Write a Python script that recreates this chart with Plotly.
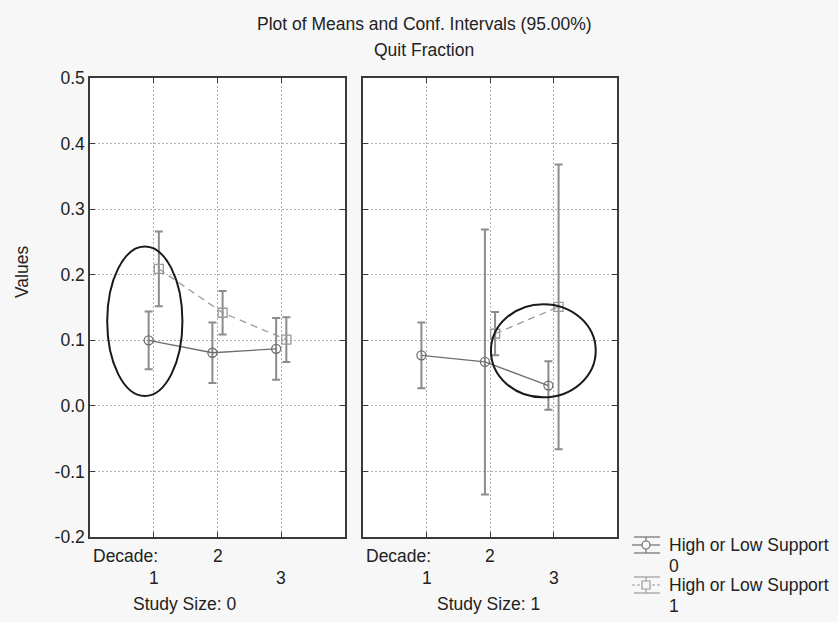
import plotly.graph_objects as go

# ---------------- data ----------------
decades = [1, 2, 3]
decade_tick_labels = ["1", "2", "3"]
y_tick_values = [-0.2, -0.1, 0.0, 0.1, 0.2, 0.3, 0.4, 0.5]
y_tick_labels = ["-0.2", "-0.1", "0.0", "0.1", "0.2", "0.3", "0.4", "0.5"]
study_sizes = ["Study Size: 0", "Study Size: 1"]
series_names = ["High or Low Support<br>0", "High or Low Support<br>1"]

# Study size 0
s0_support0_mean = [0.100, 0.081, 0.087]
s0_support0_ci = [0.044, 0.046, 0.047]
s0_support1_mean = [0.209, 0.142, 0.101]
s0_support1_ci = [0.057, 0.033, 0.034]
# Study size 1
s1_support0_mean = [0.077, 0.067, 0.031]
s1_support0_ci = [0.050, 0.202, 0.037]
s1_support1_mean = [None, 0.110, 0.151]
s1_support1_ci = [None, 0.033, 0.217]

# highlight ellipses (panel, x-center, y-center, x-radius, y-radius) in data units
ellipse_panel = [1, 2]
ellipse_cx = [0.86, 2.84]
ellipse_cy = [0.129, 0.084]
ellipse_rx = [0.59, 0.825]
ellipse_ry = [0.114, 0.071]

# ---------------- style ----------------
W, H = 838, 622
ML, MR, MT, MB = 90, 221, 78, 85
PW = W - ML - MR
PH = H - MT - MB
FONT = "Liberation Sans, Arial, sans-serif"
TXT = "#222222"
BG = "#f7f7f7"
FRAME = "#3a3a3a"
GRID = "#b0b0b0"
GRAY0 = "#6e6e6e"
GRAY1 = "#9a9a9a"
ERR = "#8c8c8c"
OFFSET = 0.08
FS = 17.5


def px_x(px):
    return (px - ML) / PW


def px_y(py):
    return (H - MB - py) / PH


fig = go.Figure()

panels = [
    (s0_support0_mean, s0_support0_ci, s0_support1_mean, s0_support1_ci),
    (s1_support0_mean, s1_support0_ci, s1_support1_mean, s1_support1_ci),
]

for i, (m0, c0, m1, c1) in enumerate(panels):
    xa = "x" if i == 0 else "x2"
    ya = "y" if i == 0 else "y2"
    fig.add_trace(go.Scatter(
        x=[d - OFFSET for d in decades], y=m0, xaxis=xa, yaxis=ya,
        mode="lines+markers", showlegend=False,
        line=dict(color=GRAY0, width=1.3),
        marker=dict(symbol="circle-open", size=9, color=GRAY0, line=dict(width=1.3)),
        error_y=dict(type="data", array=c0, color=ERR, thickness=2, width=4),
    ))
    fig.add_trace(go.Scatter(
        x=[d + OFFSET for d in decades], y=m1, xaxis=xa, yaxis=ya,
        mode="lines+markers", showlegend=False, connectgaps=False,
        line=dict(color=GRAY1, width=1.3, dash="7px,5px"),
        marker=dict(symbol="square-open", size=9, color=GRAY1, line=dict(width=1.3)),
        error_y=dict(type="data", array=[v if v is not None else 0 for v in c1],
                     color=ERR, thickness=2, width=4),
    ))

axis_common = dict(
    range=[0, 4], tickvals=decades, showticklabels=False,
    showgrid=True, gridcolor=GRID, griddash="2px,2px", gridwidth=1,
    showline=True, mirror="ticks", linecolor=FRAME, linewidth=1.5,
    ticks="inside", ticklen=5, tickcolor=FRAME, zeroline=False,
)
yaxis_common = dict(
    range=[-0.2, 0.5], tickvals=y_tick_values, ticktext=y_tick_labels,
    showgrid=True, gridcolor=GRID, griddash="2px,2px", gridwidth=1,
    showline=True, mirror="ticks", linecolor=FRAME, linewidth=1.5,
    ticks="inside", ticklen=5, tickcolor=FRAME, zeroline=False,
)

fig.update_layout(
    width=W, height=H,
    margin=dict(l=ML, r=MR, t=MT, b=MB),
    paper_bgcolor=BG, plot_bgcolor="white",
    font=dict(family=FONT, size=FS, color=TXT),
    xaxis=dict(domain=[0, 255 / PW], **axis_common),
    xaxis2=dict(domain=[273 / PW, 1.0], **axis_common),
    yaxis=dict(anchor="x", tickfont=dict(family=FONT, size=FS, color=TXT), **yaxis_common),
    yaxis2=dict(anchor="x2", showticklabels=False, **yaxis_common),
    showlegend=False,
)

shapes = []
for p, cx, cy, rx, ry in zip(ellipse_panel, ellipse_cx, ellipse_cy, ellipse_rx, ellipse_ry):
    xr = "x" if p == 1 else "x2"
    yr = "y" if p == 1 else "y2"
    shapes.append(dict(type="circle", xref=xr, yref=yr,
                       x0=cx - rx, x1=cx + rx, y0=cy - ry, y1=cy + ry,
                       line=dict(color="#1a1a1a", width=2)))

ann = []
# titles
ann.append(dict(text="Plot of Means and Conf. Intervals (95.00%)", xref="paper", yref="paper",
                x=px_x(424), y=px_y(24), showarrow=False, xanchor="center", yanchor="middle"))
ann.append(dict(text="Quit Fraction", xref="paper", yref="paper",
                x=px_x(424), y=px_y(50), showarrow=False, xanchor="center", yanchor="middle"))
# y title
ann.append(dict(text="Values", xref="paper", yref="paper", x=px_x(22), y=px_y(272),
                textangle=-90, showarrow=False, xanchor="center", yanchor="middle"))

study_centers = [184, 488]
decade_left = [91, 364]
for i in range(2):
    xr = "x" if i == 0 else "x2"
    ann.append(dict(text="Decade:", xref="paper", yref="paper", x=px_x(decade_left[i]), y=px_y(556),
                    showarrow=False, xanchor="left", yanchor="middle"))
    for d, lab in zip(decades, decade_tick_labels):
        yy = 556 if d % 2 == 0 else 578
        ann.append(dict(text=lab, xref=xr, yref="paper", x=d, y=px_y(yy),
                        showarrow=False, xanchor="center", yanchor="middle"))
    ann.append(dict(text=study_sizes[i], xref="paper", yref="paper", x=px_x(study_centers[i]),
                    y=px_y(604), showarrow=False, xanchor="center", yanchor="middle"))

# custom legend
leg_y = [545, 585]
leg_dash = ["solid", "3px,2px"]
leg_col = [GRAY0, GRAY1]
leg_sym = ["circle", "square"]
for k in range(2):
    cy = leg_y[k]
    x0, x1, xc = 632, 660, 646
    for dy, dash in [(-8, "solid"), (0, leg_dash[k]), (8, "solid")]:
        shapes.append(dict(type="line", xref="paper", yref="paper",
                           x0=px_x(x0 if dy == 0 else x0 + 2), x1=px_x(x1),
                           y0=px_y(cy + dy), y1=px_y(cy + dy),
                           line=dict(color=leg_col[k], width=1.2, dash=dash)))
    shapes.append(dict(type="line", xref="paper", yref="paper",
                       x0=px_x(xc), x1=px_x(xc), y0=px_y(cy - 8), y1=px_y(cy + 8),
                       line=dict(color=leg_col[k], width=1.2)))
    r = 4
    shapes.append(dict(type="circle" if leg_sym[k] == "circle" else "rect",
                       xref="paper", yref="paper",
                       x0=px_x(xc - r), x1=px_x(xc + r), y0=px_y(cy - r), y1=px_y(cy + r),
                       fillcolor=BG, line=dict(color=leg_col[k], width=1.2)))
    name_lines = series_names[k].split("<br>")
    ann.append(dict(text=name_lines[0], xref="paper", yref="paper", x=px_x(668), y=px_y(cy),
                    showarrow=False, xanchor="left", yanchor="middle", borderpad=0))
    ann.append(dict(text=name_lines[1], xref="paper", yref="paper", x=px_x(668), y=px_y(cy + 21),
                    showarrow=False, xanchor="left", yanchor="middle", borderpad=0))

fig.update_layout(shapes=shapes, annotations=ann)
fig.write_html(
    "out.html",
    config={"displayModeBar": False},
    post_script="document.body.style.margin='0';document.body.style.padding='0';"
                "document.body.style.overflow='hidden';document.body.style.background='#f7f7f7';",
)
